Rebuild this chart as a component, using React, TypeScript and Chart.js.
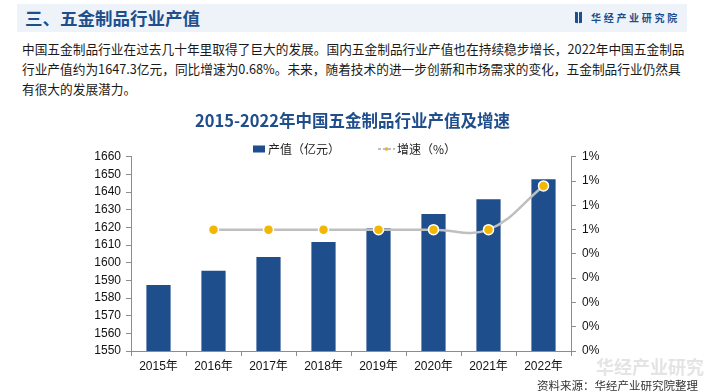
import React, { useEffect, useRef } from 'react';
import { Chart, registerables } from 'chart.js';

Chart.register(...registerables);

// ---- data ----
const categories = ['2015年', '2016年', '2017年', '2018年', '2019年', '2020年', '2021年', '2022年'];
const outputValues = [1587.4, 1595.5, 1603.2, 1611.7, 1619.5, 1627.6, 1636.0, 1647.3];
const growthRates = [null, 0.5, 0.5, 0.5, 0.5, 0.5, 0.5, 0.68];
const seriesLabels = ['产值（亿元）', '增速（%）'];
const leftAxisRange = [1550, 1660, 10];
const rightAxisRange = [0, 0.8, 0.1];

const chartTitle = '2015-2022年中国五金制品行业产值及增速';
const headerTitle = '三、五金制品行业产值';
const brandName = '华经产业研究院';
const paragraphLines = [
  '中国五金制品行业在过去几十年里取得了巨大的发展。国内五金制品行业产值也在持续稳步增长，2022年中国五金制品',
  '行业产值约为1647.3亿元，同比增速为0.68%。未来，随着技术的进一步创新和市场需求的变化，五金制品行业仍然具',
  '有很大的发展潜力。',
];
const sourceText = '资料来源：华经产业研究院整理';
const watermarkText = '华经产业研究';

const BAR_COLOR = '#1F4E8C';
const LINE_COLOR = '#BFBFBF';
const POINT_COLOR = '#F2B705';
const AXIS_COLOR = '#8C8C8C';
const TEXT_FONT = '"Liberation Sans", Arial, "Noto Sans CJK SC", sans-serif';
const CJK_FONT = '"Noto Sans CJK SC", "Microsoft YaHei", sans-serif';

const legendPlugin = {
  id: 'customLegend',
  afterDraw(chart: any) {
    const ctx = chart.ctx as CanvasRenderingContext2D;
    const y = 49;
    const barDs = chart.data.datasets.find((d: any) => d.type === 'bar');
    const lineDs = chart.data.datasets.find((d: any) => d.type === 'line');
    ctx.save();
    ctx.font = `12px ${CJK_FONT}`;
    ctx.textBaseline = 'middle';
    ctx.textAlign = 'left';
    // bar item
    ctx.fillStyle = BAR_COLOR;
    ctx.fillRect(253, y - 3.5, 12, 7);
    ctx.fillStyle = '#222';
    ctx.fillText(barDs.label, 268, y);
    // line item
    ctx.strokeStyle = LINE_COLOR;
    ctx.lineWidth = 2;
    ctx.setLineDash([3, 2]);
    ctx.beginPath();
    ctx.moveTo(378, y);
    ctx.lineTo(395, y);
    ctx.stroke();
    ctx.setLineDash([]);
    ctx.fillStyle = POINT_COLOR;
    ctx.fillRect(385, y - 1.5, 3, 3);
    ctx.fillStyle = '#222';
    ctx.fillText(lineDs.label, 397, y);
    ctx.restore();
  },
};

function ChartCanvas() {
  const ref = useRef<HTMLCanvasElement | null>(null);
  useEffect(() => {
    if (!ref.current) return;
    const chart = new Chart(ref.current, {
      type: 'bar',
      data: {
        labels: categories,
        datasets: [
          {
            type: 'line',
            label: seriesLabels[1],
            data: growthRates,
            yAxisID: 'y1',
            borderColor: LINE_COLOR,
            borderWidth: 2.5,
            tension: 0.4,
            pointBackgroundColor: POINT_COLOR,
            pointBorderColor: '#FFFFFF',
            pointBorderWidth: 1.5,
            pointRadius: 5,
            fill: false,
            order: 0,
          } as any,
          {
            type: 'bar',
            label: seriesLabels[0],
            data: outputValues,
            yAxisID: 'y',
            backgroundColor: BAR_COLOR,
            barPercentage: 0.44,
            categoryPercentage: 1,
            order: 1,
          } as any,
        ],
      },
      options: {
        responsive: false,
        animation: false,
        layout: { padding: 0 },
        plugins: {
          legend: { display: false },
          tooltip: { enabled: false },
          title: {
            display: true,
            text: chartTitle,
            color: BAR_COLOR,
            font: { size: 16.5, weight: 'bold', family: CJK_FONT },
            padding: { top: 11, bottom: 26 },
          },
        },
        scales: {
          x: {
            grid: { display: true, drawOnChartArea: false, drawTicks: true, tickLength: 5, color: AXIS_COLOR, offset: true },
            border: { display: true, color: AXIS_COLOR, width: 1 },
            ticks: { color: '#111', font: { size: 12, family: TEXT_FONT }, padding: 3, maxRotation: 0 },
            afterFit: (s: any) => { s.height = 41; },
          },
          y: {
            position: 'left',
            min: leftAxisRange[0],
            max: leftAxisRange[1],
            grid: { display: true, drawOnChartArea: false, drawTicks: true, tickLength: 5, color: AXIS_COLOR },
            border: { display: true, color: AXIS_COLOR, width: 1 },
            ticks: {
              stepSize: leftAxisRange[2],
              color: '#111',
              font: { size: 12, family: TEXT_FONT },
              padding: 5,
              callback: (v: any) => String(Math.round(Number(v))),
            },
            afterFit: (s: any) => { s.width = 131; },
          },
          y1: {
            position: 'right',
            min: rightAxisRange[0],
            max: rightAxisRange[1],
            grid: { display: true, drawOnChartArea: false, drawTicks: true, tickLength: 5, color: AXIS_COLOR },
            border: { display: true, color: AXIS_COLOR, width: 1 },
            ticks: {
              stepSize: rightAxisRange[2],
              color: '#111',
              font: { size: 12, family: TEXT_FONT },
              padding: 6,
              callback: (v: any) => `${Math.round(Number(v) + 1e-9)}%`,
            },
            afterFit: (s: any) => { s.width = 134; },
          },
        },
      },
      plugins: [legendPlugin],
    });
    return () => chart.destroy();
  }, []);
  return <canvas ref={ref} width={705} height={292} style={{ position: 'absolute', left: 0, top: 100, width: 705, height: 292 }} />;
}

export default function App() {
  return (
    <div style={{ position: 'fixed', left: 0, top: 0, width: 705, height: 392, overflow: 'hidden', background: '#FFFFFF', fontFamily: CJK_FONT }}>
      <div style={{ position: 'absolute', left: 17, top: 4, width: 670, height: 28, background: '#EEF3FA' }} />
      <div style={{ position: 'absolute', left: 25, top: 4, height: 28, lineHeight: '28px', fontSize: 17.5, fontWeight: 'bold', color: BAR_COLOR, whiteSpace: 'nowrap' }}>{headerTitle}</div>
      <div style={{ position: 'absolute', left: 575, top: 12, width: 3, height: 11, background: BAR_COLOR, transform: 'skewY(8deg)' }} />
      <div style={{ position: 'absolute', left: 579, top: 12, width: 3, height: 11, background: BAR_COLOR, transform: 'skewY(-8deg)' }} />
      <div style={{ position: 'absolute', left: 591, top: 4, height: 28, lineHeight: '28px', fontSize: 10, fontWeight: 'bold', letterSpacing: 2.7, color: BAR_COLOR, whiteSpace: 'nowrap' }}>{brandName}</div>
      {paragraphLines.map((t, i) => (
        <div key={i} style={{ position: 'absolute', left: 22, top: 39 + i * 20, height: 20, lineHeight: '20px', fontSize: 12.7, color: '#1A1A1A', whiteSpace: 'nowrap' }}>{t}</div>
      ))}
      <ChartCanvas />
      <div style={{ position: 'absolute', left: 596, top: 355, height: 22, lineHeight: '22px', fontSize: 18, fontWeight: 'bold', color: '#E4E4E4', whiteSpace: 'nowrap', pointerEvents: 'none' }}>{watermarkText}</div>
      <div style={{ position: 'absolute', left: 537, top: 377, height: 16, lineHeight: '16px', fontSize: 11.5, color: '#333', whiteSpace: 'nowrap' }}>{sourceText}</div>
    </div>
  );
}
